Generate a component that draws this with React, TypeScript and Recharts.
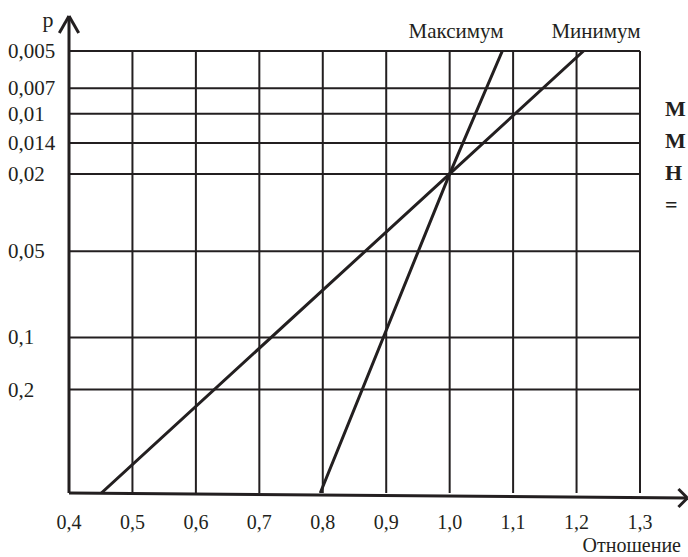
import { ComposedChart, Line, XAxis, YAxis, ReferenceLine } from "recharts";

// Номограмма: вероятность p (рукописная вероятностная шкала) против отношения.
// Положения уровней p: 0 = ось абсцисс, 100 = верхняя линия (0,005).
const X_TICKS = [0.4, 0.5, 0.6, 0.7, 0.8, 0.9, 1.0, 1.1, 1.2, 1.3];
const P_LABELS = ["0,005", "0,007", "0,01", "0,014", "0,02", "0,05", "0,1", "0,2"];
const P_LEVELS = [100, 91.6, 85.8, 79.2, 72.2, 54.7, 35.2, 23.4];

const MAX_X = [0.796, 1.0, 1.083];
const MAX_Y = [0, 72.2, 100];
const MIN_X = [0.451, 1.0, 1.211];
const MIN_Y = [0, 72.2, 100];

const INK = "#231f20";
const FONT = "'Liberation Serif', 'Times New Roman', serif";

const maxData = MAX_X.map((x, i) => ({ x, y: MAX_Y[i] }));
const minData = MIN_X.map((x, i) => ({ x, y: MIN_Y[i] }));

function XTick({ x, y, payload }: any) {
  const s = payload.value.toFixed(1).replace(".", ",");
  return (
    <text x={x} y={y + 36} textAnchor="middle" fontSize={20} fontFamily={FONT} fill={INK}>
      {s}
    </text>
  );
}

function YTick({ x, y, payload }: any) {
  const i = P_LEVELS.indexOf(payload.value);
  return (
    <text x={x - 61} y={y + 7} textAnchor="start" fontSize={21} fontFamily={FONT} fill={INK}>
      {P_LABELS[i]}
    </text>
  );
}

export default function App() {
  return (
    <div style={{ position: "absolute", left: 0, top: 0, width: 688, height: 557, background: "#fff" }}>
      <ComposedChart width={688} height={557} margin={{ top: 51, right: 48, bottom: 0, left: 0 }}>
        <XAxis
          dataKey="x"
          type="number"
          domain={[0.4, 1.3]}
          ticks={X_TICKS}
          height={64}
          axisLine={false}
          tickLine={false}
          tickSize={0}
          tickMargin={0}
          tick={<XTick />}
          allowDataOverflow
        />
        <YAxis
          type="number"
          domain={[0, 100]}
          ticks={P_LEVELS}
          width={69}
          axisLine={false}
          tickLine={false}
          tickSize={0}
          tickMargin={0}
          tick={<YTick />}
          interval={0}
          allowDataOverflow
        />
        {X_TICKS.slice(1).map((v) => (
          <ReferenceLine key={"v" + v} x={v} stroke={INK} strokeWidth={2} />
        ))}
        {P_LEVELS.map((v) => (
          <ReferenceLine key={"h" + v} y={v} stroke={INK} strokeWidth={2} />
        ))}
        {/* оси со стрелками */}
        <ReferenceLine segment={[{ x: 0.4, y: 0 }, { x: 0.4, y: 107.9 }]} stroke={INK} strokeWidth={3} ifOverflow="visible" />
        <ReferenceLine segment={[{ x: 0.3847, y: 104.1 }, { x: 0.4, y: 107.9 }]} stroke={INK} strokeWidth={3} ifOverflow="visible" />
        <ReferenceLine segment={[{ x: 0.4, y: 107.9 }, { x: 0.4153, y: 104.1 }]} stroke={INK} strokeWidth={3} ifOverflow="visible" />
        <ReferenceLine segment={[{ x: 0.4, y: 0 }, { x: 1.3748, y: -1.13 }]} stroke={INK} strokeWidth={3} ifOverflow="visible" />
        <ReferenceLine segment={[{ x: 1.3606, y: 0.9 }, { x: 1.3748, y: -1.13 }]} stroke={INK} strokeWidth={3} ifOverflow="visible" />
        <ReferenceLine segment={[{ x: 1.3748, y: -1.13 }, { x: 1.3606, y: -3.17 }]} stroke={INK} strokeWidth={3} ifOverflow="visible" />
        <Line data={maxData} dataKey="y" stroke={INK} strokeWidth={3} dot={false} isAnimationActive={false} />
        <Line data={minData} dataKey="y" stroke={INK} strokeWidth={3} dot={false} isAnimationActive={false} />
      </ComposedChart>
      <svg
        width={688}
        height={557}
        style={{ position: "absolute", left: 0, top: 0, pointerEvents: "none" }}
        fontFamily={FONT}
        fill={INK}
      >
        <text x={48} y={27} fontSize={22} textAnchor="middle">p</text>
        <text x={456} y={38} fontSize={21} textAnchor="middle">Максимум</text>
        <text x={596} y={38} fontSize={21} textAnchor="middle">Минимум</text>
        <text x={681} y={552} fontSize={20} textAnchor="end">Отношение</text>
        <text x={665} y={116} fontSize={22} fontWeight="bold">М</text>
        <text x={665} y={148} fontSize={22} fontWeight="bold">М</text>
        <text x={665} y={180} fontSize={22} fontWeight="bold">Н</text>
        <text x={665} y={212} fontSize={22} fontWeight="bold">=</text>
      </svg>
    </div>
  );
}
